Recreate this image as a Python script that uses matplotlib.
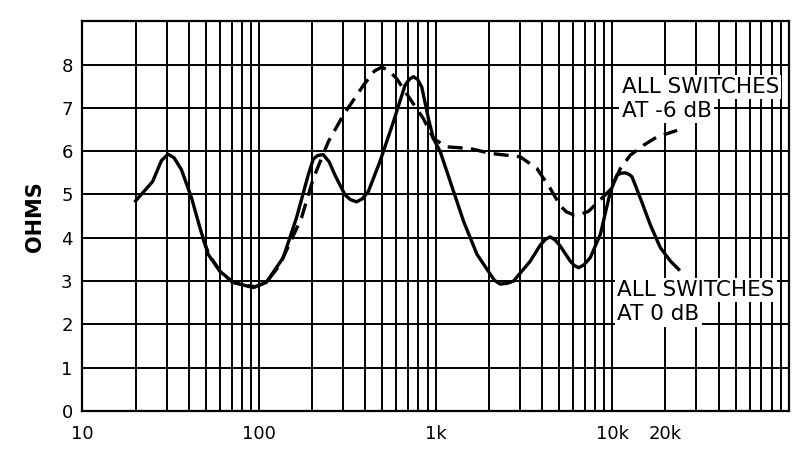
import matplotlib
matplotlib.use('Agg')
import matplotlib.pyplot as plt
from matplotlib.ticker import FixedLocator, NullFormatter, LogLocator

# impedance curves (Hz, ohms)
freq_0db = [20, 25, 28, 30.5, 33, 36.4, 41.5, 46.3, 51.5, 60, 71.4, 85, 93, 110, 137, 163, 190,
            203, 215, 231, 250, 269, 307, 330, 357, 385, 416, 484, 576, 671, 710, 748, 790, 835,
            911, 972, 1062, 1210, 1440, 1714, 2040, 2150, 2322, 2550, 2763, 3435, 3912, 4200,
            4460, 4750, 5080, 5790, 6100, 6450, 6900, 7510, 8570, 9770, 10650, 11200, 11860,
            12500, 12940, 14420, 16430, 18740, 21380, 23800]
ohms_0db = [4.85, 5.3, 5.78, 5.93, 5.85, 5.57, 4.92, 4.23, 3.62, 3.23, 2.97, 2.89, 2.85, 2.97, 3.54,
            4.46, 5.45, 5.82, 5.9, 5.92, 5.75, 5.45, 4.99, 4.88, 4.83, 4.9, 5.07, 5.76, 6.67, 7.52,
            7.66, 7.72, 7.66, 7.48, 6.75, 6.29, 5.99, 5.3, 4.38, 3.62, 3.16, 3.02, 2.93, 2.95, 3.0,
            3.46, 3.83, 3.97, 4.02, 3.95, 3.81, 3.46, 3.36, 3.31, 3.37, 3.54, 4.08, 5.07, 5.45,
            5.49, 5.5, 5.46, 5.41, 4.92, 4.3, 3.77, 3.46, 3.27]

freq_6db = [48, 52, 60, 71, 85, 95, 110, 130, 147, 174, 203, 247, 300, 390, 450, 495, 545, 603,
            716, 853, 972, 1157, 1570, 2038, 3013, 3748, 4460, 5080, 5500, 6040, 6700, 7340,
            8570, 9770, 11130, 12680, 15080, 17940, 23300]
ohms_6db = [4.0, 3.62, 3.23, 2.97, 2.9, 2.87, 2.97, 3.35, 3.81, 4.46, 5.37, 6.22, 6.83, 7.52, 7.85,
            7.94, 7.86, 7.67, 7.21, 6.75, 6.29, 6.1, 6.06, 5.95, 5.87, 5.6, 5.14, 4.74, 4.6, 4.53,
            4.55, 4.61, 4.88, 5.11, 5.6, 5.91, 6.14, 6.33, 6.48]

xtick_vals = [10, 100, 1000, 10000, 20000]
xtick_labels = ['10', '100', '1k', '10k', '20k']
ytick_vals = [0, 1, 2, 3, 4, 5, 6, 7, 8]

fig = plt.figure(figsize=(8, 4.58), dpi=100)
ax = fig.add_axes([0.103, 0.1026, 0.883, 0.851])

ax.set_xscale('log')
ax.set_xlim(10, 100000)
ax.set_ylim(0, 9)

ax.xaxis.set_major_locator(FixedLocator(xtick_vals))
ax.set_xticklabels(xtick_labels)
ax.xaxis.set_minor_locator(LogLocator(base=10, subs=range(2, 10), numticks=20))
ax.xaxis.set_minor_formatter(NullFormatter())
ax.set_yticks(ytick_vals)

ax.grid(True, which='both', axis='x', color='black', lw=1.4)
ax.grid(True, which='major', axis='y', color='black', lw=1.4)
ax.tick_params(which='both', length=0)
ax.tick_params(axis='x', pad=10, labelsize=13)
ax.tick_params(axis='y', pad=7, labelsize=13)
for s in ax.spines.values():
    s.set_linewidth(1.6)

ax.plot(freq_0db, ohms_0db, color='black', lw=2.4, solid_joinstyle='round')
ax.plot(freq_6db, ohms_6db, color='black', lw=2.4, dashes=(4.5, 2.5))

ax.set_ylabel('OHMS', fontsize=15, fontweight='bold', labelpad=12,
              family=['Liberation Sans Narrow', 'DejaVu Sans'])

box = dict(facecolor='white', edgecolor='none', pad=1.5)
ax.text(11300, 7.72, 'ALL SWITCHES', fontsize=15.5, va='top', bbox=box)
ax.text(11300, 7.16, 'AT -6 dB', fontsize=15.5, va='top', bbox=box)
ax.text(10700, 3.02, 'ALL SWITCHES', fontsize=15.5, va='top', bbox=box)
ax.text(10700, 2.46, 'AT 0 dB', fontsize=15.5, va='top', bbox=box)

plt.savefig('out.png', dpi=100)
plt.close()
